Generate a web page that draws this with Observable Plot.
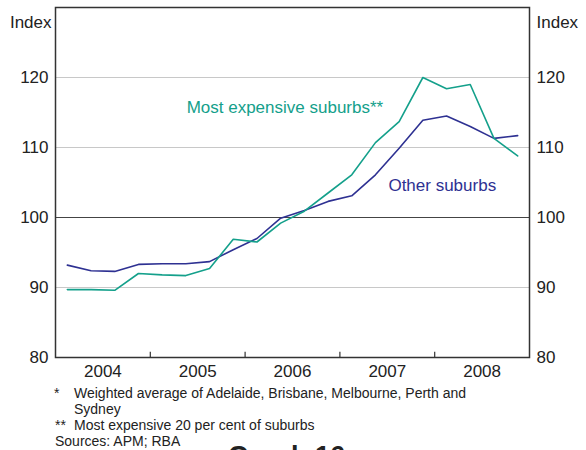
<!DOCTYPE html>
<html><head><meta charset="utf-8">
<script src="https://cdn.jsdelivr.net/npm/d3@7"></script>
<script src="https://cdn.jsdelivr.net/npm/@observablehq/plot@0.6"></script>
<style>
body{margin:0;background:#fff;overflow:hidden}
#wrap{position:relative;width:586px;height:450px;overflow:hidden;font-family:"Liberation Sans",Arial,sans-serif;color:#222;background:#fff}
#chart{position:absolute;left:0;top:0}
.fn{position:absolute;font-size:14px;line-height:14px;white-space:nowrap}
.title{position:absolute;left:0;width:573px;text-align:center;font-size:27px;line-height:27px;font-weight:bold;top:443px}
</style></head><body>
<div id="wrap">
<div id="chart"></div>
<div class="fn" style="left:54px;top:386px">*</div>
<div class="fn" style="left:74px;top:386px">Weighted average of Adelaide, Brisbane, Melbourne, Perth and</div>
<div class="fn" style="left:74px;top:401.5px">Sydney</div>
<div class="fn" style="left:55px;top:417.6px">**</div>
<div class="fn" style="left:74px;top:417.6px">Most expensive 20 per cent of suburbs</div>
<div class="fn" style="left:55px;top:433.6px">Sources: APM; RBA</div>
<div class="title">Graph 16</div>
</div>
<script>
const quarters = ["2004-Q1","2004-Q2","2004-Q3","2004-Q4","2005-Q1","2005-Q2","2005-Q3","2005-Q4",
  "2006-Q1","2006-Q2","2006-Q3","2006-Q4","2007-Q1","2007-Q2","2007-Q3","2007-Q4",
  "2008-Q1","2008-Q2","2008-Q3","2008-Q4"];
const otherSuburbs = [93.2,92.4,92.3,93.3,93.4,93.4,93.7,95.4,97.0,99.9,101.0,102.3,103.1,106.1,109.9,113.9,114.5,113.0,111.3,111.7];
const mostExpensive = [89.7,89.7,89.6,92.0,91.8,91.7,92.7,96.9,96.5,99.2,100.9,103.5,106.1,110.7,113.7,120.0,118.4,119.0,111.3,108.8];
const yearLabels = [2004,2005,2006,2007,2008];
const yearBoundaries = [2005,2006,2007,2008];
const yTicks = [80,90,100,110,120];
const gridLevels = [90,110,120];

const teal = "#14a08b";
const navy = "#2e3192";

const qx = s => { const [y,q] = s.split("-Q"); return +y + (+q - 0.5)/4; };
const rows = quarters.map((q,i) => ({x: qx(q), other: otherSuburbs[i], expensive: mostExpensive[i]}));

const chart = Plot.plot({
  width: 586, height: 385,
  marginLeft: 55, marginRight: 57, marginTop: 7, marginBottom: 28,
  style: {fontFamily: "Liberation Sans, Arial, sans-serif", fontSize: "17px", color: "#222", background: "#fff"},
  x: {domain: [2004, 2009], label: null},
  y: {domain: [80, 130], label: null},
  marks: [
    Plot.gridY(gridLevels, {stroke: "#c8c8c8", strokeOpacity: 1, strokeWidth: 1.2}),
    Plot.ruleY([100], {stroke: "#444", strokeWidth: 1.2}),
    Plot.ruleX(yearBoundaries, {y1: 80, y2: 80.75, stroke: "#333", strokeWidth: 1.2}),
    Plot.line(rows, {x: "x", y: "other", stroke: navy, strokeWidth: 1.6}),
    Plot.line(rows, {x: "x", y: "expensive", stroke: teal, strokeWidth: 1.6}),
    Plot.frame({stroke: "#333", strokeWidth: 1.5}),
    Plot.axisX(yearLabels.map(y => y + 0.5), {tickSize: 0, tickPadding: 7, tickFormat: d => String(Math.floor(d)), fontSize: 17, fill: "#222"}),
    Plot.axisY(yTicks, {anchor: "left", tickSize: 0, tickPadding: 7, fontSize: 17, fill: "#222"}),
    Plot.axisY(yTicks, {anchor: "right", tickSize: 0, tickPadding: 7, fontSize: 17, fill: "#222"}),
    Plot.text(["Index"], {frameAnchor: "top-left", dx: -4, dy: 8, textAnchor: "end", fontSize: 17, fill: "#222"}),
    Plot.text(["Index"], {frameAnchor: "top-right", dx: 7, dy: 8, textAnchor: "start", fontSize: 17, fill: "#222"}),
    Plot.text(["Most expensive suburbs**"], {x: 2006.42, y: 115.67, fill: teal, fontSize: 17}),
    Plot.text(["Other suburbs"], {x: 2008.08, y: 104.57, fill: navy, fontSize: 17})
  ]
});
document.getElementById("chart").appendChild(chart);
</script>
</body></html>
